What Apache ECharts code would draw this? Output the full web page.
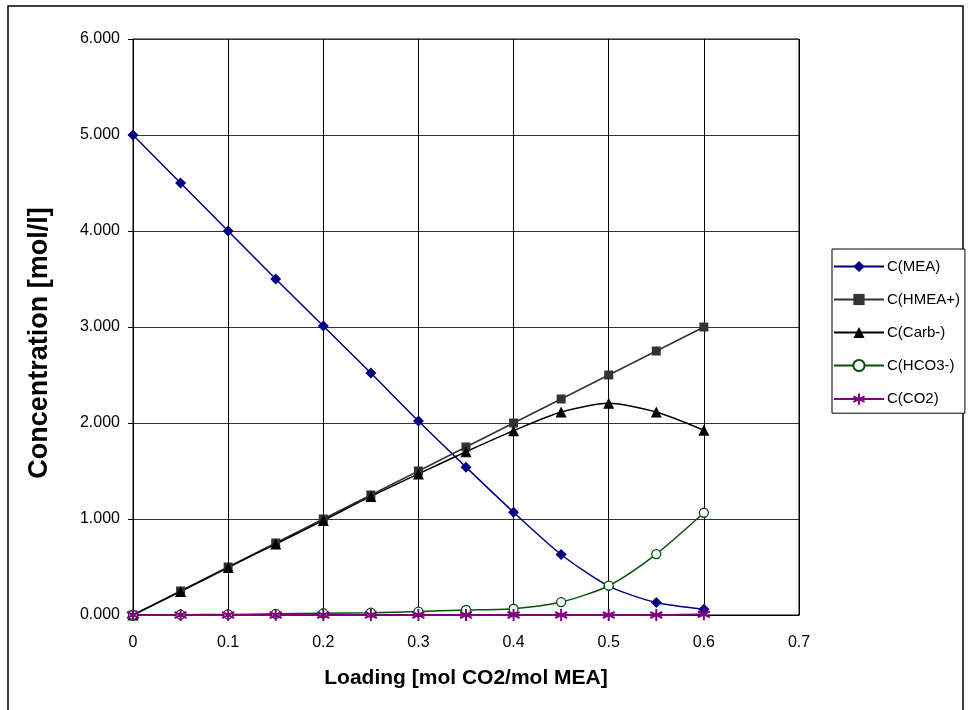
<!DOCTYPE html>
<html>
<head>
<meta charset="utf-8">
<script src="https://cdn.jsdelivr.net/npm/echarts@6/dist/echarts.min.js"></script>
<style>
  html, body { margin: 0; padding: 0; background: #fff; }
  #chart { width: 971px; height: 710px; }
</style>
</head>
<body>
<div id="chart"></div>
<script>
// CO2 loading of the solution (mol CO2 / mol MEA)
const loading = [0, 0.05, 0.1, 0.15, 0.2, 0.25, 0.3, 0.35, 0.4, 0.45, 0.5, 0.55, 0.6];

// Species concentrations (mol/l) at each loading
const cMEA  = [5.000, 4.500, 4.000, 3.500, 3.010, 2.520, 2.020, 1.540, 1.070, 0.630, 0.300, 0.130, 0.060];
const cHMEA = [0.000, 0.250, 0.500, 0.750, 1.000, 1.250, 1.500, 1.750, 2.000, 2.250, 2.500, 2.750, 3.000];
const cCarb = [0.000, 0.245, 0.495, 0.740, 0.985, 1.235, 1.470, 1.700, 1.920, 2.115, 2.205, 2.115, 1.925];
const cHCO3 = [0.000, 0.003, 0.006, 0.012, 0.018, 0.024, 0.036, 0.052, 0.065, 0.135, 0.305, 0.635, 1.065];
const cCO2  = [0.000, 0.000, 0.000, 0.000, 0.000, 0.000, 0.000, 0.000, 0.000, 0.000, 0.000, 0.000, 0.008];

const seriesNames = ['C(MEA)', 'C(HMEA+)', 'C(Carb-)', 'C(HCO3-)', 'C(CO2)'];

const pairs = (ys) => loading.map((x, i) => [x, ys[i]]);

// asterisk marker: vertical bar plus two diagonals
const asterisk = 'path://M5,0 L5,10 M0.8,2.5 L9.2,7.5 M0.8,7.5 L9.2,2.5';

const font = 'Liberation Sans, Arial, sans-serif';

const chart = echarts.init(document.getElementById('chart'), null, { renderer: 'canvas' });

function lineSeries(name, ys, color, symbol, size, extra) {
  return Object.assign({
    name: name,
    type: 'line',
    data: pairs(ys),
    smooth: 0.25,
    symbol: symbol,
    symbolSize: size,
    lineStyle: { color: color, width: 1.5 },
    itemStyle: { color: color, borderColor: color, borderWidth: 0 },
    emphasis: { disabled: true },
    animation: false
  }, extra || {});
}

chart.setOption({
  animation: false,
  graphic: [{
    type: 'rect',
    shape: { x: 8, y: 6, width: 955, height: 720 },
    style: { fill: 'none', stroke: '#000', lineWidth: 1.5 },
    silent: true,
    z: -1
  }],
  grid: {
    left: 133, right: 172, top: 39, bottom: 95,
    show: true, borderColor: '#000', borderWidth: 1
  },
  legend: {
    orient: 'vertical',
    left: 832, top: 249,
    itemWidth: 50, itemHeight: 14, itemGap: 18,
    padding: [10, 5, 6, 1],
    borderColor: '#000', borderWidth: 1,
    backgroundColor: '#fff',
    textStyle: { fontFamily: font, fontSize: 15, lineHeight: 14, color: '#000', padding: [0, 0, 0, -2] },
    data: seriesNames
  },
  xAxis: {
    type: 'value',
    min: 0, max: 0.7, interval: 0.1,
    name: 'Loading [mol CO2/mol MEA]',
    nameLocation: 'middle',
    nameGap: 53,
    nameTextStyle: { fontFamily: font, fontSize: 21, fontWeight: 'bold', color: '#000' },
    axisLine: { show: true, lineStyle: { color: '#000', width: 1 } },
    axisTick: { show: false },
    axisLabel: { fontFamily: font, fontSize: 16, color: '#000', margin: 20,
                 formatter: v => String(Math.round(v * 10) / 10) },
    splitLine: { show: true, lineStyle: { color: '#000', width: 1 } }
  },
  yAxis: {
    type: 'value',
    min: 0, max: 6, interval: 1,
    name: 'Concentration [mol/l]',
    nameLocation: 'middle',
    nameGap: 80,
    nameTextStyle: { fontFamily: font, fontSize: 27, fontWeight: 'bold', color: '#000',
                     padding: [0, 32, 0, 0] },
    axisLine: { show: true, lineStyle: { color: '#000', width: 1 } },
    axisTick: { show: true, inside: false, length: 5, lineStyle: { color: '#000' } },
    axisLabel: { fontFamily: font, fontSize: 16, color: '#000', margin: 13,
                 formatter: v => v.toFixed(3) },
    splitLine: { show: true, lineStyle: { color: '#333', width: 1 } }
  },
  series: [
    lineSeries('C(MEA)', cMEA, '#000080', 'diamond', 11),
    lineSeries('C(HMEA+)', cHMEA, '#333333', 'rect', 9),
    lineSeries('C(Carb-)', cCarb, '#000000', 'triangle', 11),
    lineSeries('C(HCO3-)', cHCO3, '#0a4f0a', 'circle', 9, {
      itemStyle: { color: '#fff', borderColor: '#0a4f0a', borderWidth: 1.3 }
    }),
    lineSeries('C(CO2)', cCO2, '#800080', asterisk, 12, {
      lineStyle: { color: '#800080', width: 2 },
      itemStyle: { color: 'none', borderColor: '#800080', borderWidth: 2 }
    })
  ]
});
</script>
</body>
</html>
